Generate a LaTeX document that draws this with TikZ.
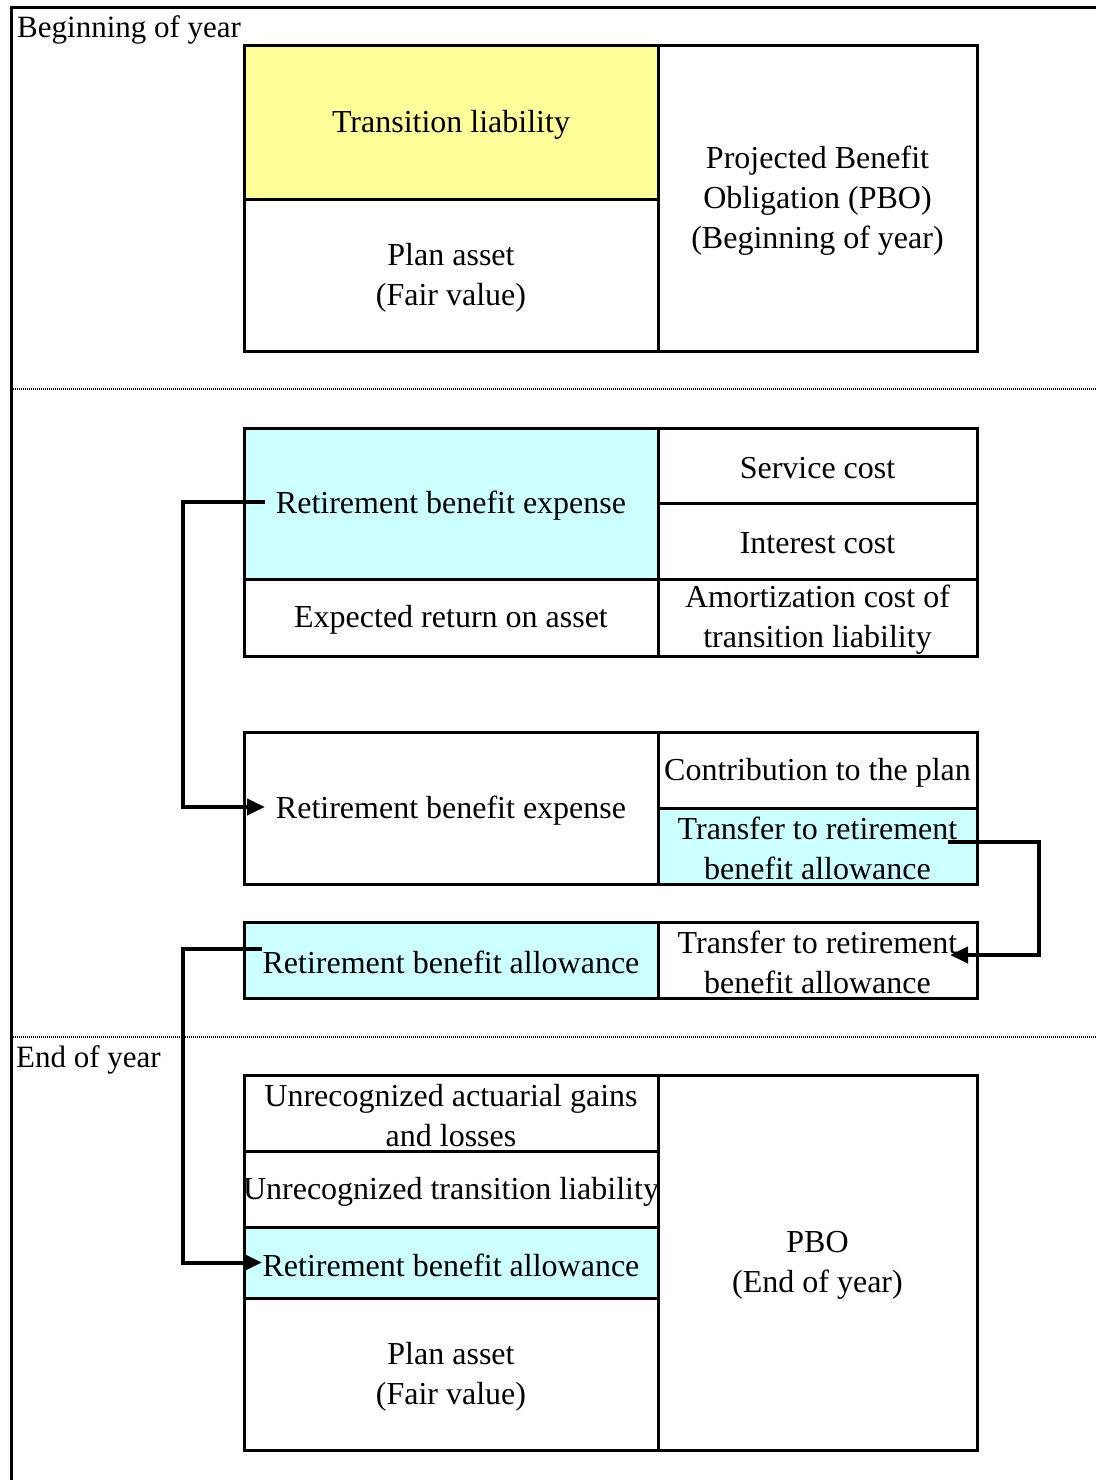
\documentclass[tikz,border=0pt]{standalone}
\usepackage{fontspec}
\setmainfont{Liberation Serif}
\usetikzlibrary{arrows.meta}
\definecolor{lyellow}{HTML}{FFFF99}
\definecolor{lcyan}{HTML}{CCFFFF}
\newcommand{\mkcell}[4]{%
  \node[cell, #1] (#2) at #3 {};
  \node[txt] (#2-t) at ([yshift=-2.5pt]#2.center) {#4};}
\begin{document}
\begin{tikzpicture}[x=1pt,y=-1pt,
  cell/.style={draw, line width=3pt, inner sep=0pt, outer sep=0pt},
  txt/.style={inner sep=0pt, align=center, font=\fontsize{32}{40}\selectfont},
  lw/.style={minimum width=414pt},
  rw/.style={minimum width=319pt},
  conn/.style={line width=4pt, -{Triangle[length=18pt,width=16pt]}},
  sep/.style={line width=1.5pt, dash pattern=on 1pt off 1pt},
  lbl/.style={anchor=base west, inner sep=0pt, font=\fontsize{31}{40}\selectfont}]
\useasboundingbox (0,0) rectangle (1096,1480);
\fill[white] (0,0) rectangle (1096,1480);
% outer frame
\draw[line width=3pt] (1096,8) -- (11,8) -- (11,1480);
% separators
\draw[sep] (13,389) -- (1096,389);
\draw[sep] (13,1037) -- (1096,1037);
% labels
\node[lbl] (boy) at (17,38) {Beginning of year};
\node[lbl] (eoy) at (16,1067) {End of year};
% box 1
\mkcell{lw, fill=lyellow, minimum height=153pt}{tl}{(451,122.5)}{Transition liability}
\mkcell{lw, minimum height=152pt}{pa1}{(451,275)}{Plan asset\\(Fair value)}
\mkcell{rw, minimum height=305pt}{pbo1}{(817.5,198.5)}{Projected Benefit\\Obligation (PBO)\\(Beginning of year)}
% box 2
\mkcell{lw, fill=lcyan, minimum height=151pt}{rbe1}{(451,503.5)}{Retirement benefit expense}
\mkcell{lw, minimum height=77pt}{era}{(451,617.5)}{Expected return on asset}
\mkcell{rw, minimum height=75pt}{sc}{(817.5,465.5)}{Service cost}
\mkcell{rw, minimum height=76pt}{ic}{(817.5,541)}{Interest cost}
\mkcell{rw, minimum height=77pt}{am}{(817.5,617.5)}{Amortization cost of\\transition liability}
% box 3
\mkcell{lw, minimum height=152pt}{rbe2}{(451,808)}{Retirement benefit expense}
\mkcell{rw, minimum height=76pt}{cp}{(817.5,770)}{Contribution to the plan}
\mkcell{rw, fill=lcyan, minimum height=76pt}{tr1}{(817.5,846)}{Transfer to retirement\\benefit allowance}
% box 4
\mkcell{lw, fill=lcyan, minimum height=76pt}{rba1}{(451,960)}{Retirement benefit allowance}
\mkcell{rw, minimum height=76pt}{tr2}{(817.5,960)}{Transfer to retirement\\benefit allowance}
% box 5
\mkcell{lw, minimum height=76pt}{ua}{(451,1113)}{Unrecognized actuarial gains\\and losses}
\mkcell{lw, minimum height=76pt}{ut}{(451,1189)}{Unrecognized transition liability}
\mkcell{lw, fill=lcyan, minimum height=71pt}{rba2}{(451,1262.5)}{Retirement benefit allowance}
\mkcell{lw, minimum height=152pt}{pa2}{(451,1374)}{Plan asset\\(Fair value)}
\mkcell{rw, minimum height=375pt}{pbo2}{(817.5,1262.5)}{PBO\\(End of year)}
% connectors
\draw[conn] ([xshift=21pt,yshift=1.5pt]rbe1.west) -- ++(-82,0) |- ([xshift=21pt,yshift=1pt]rbe2.west);
\draw[conn] ([xshift=-29pt,yshift=4pt]tr1.east) -- ++(91,0) |- ([xshift=-27pt,yshift=5pt]tr2.east);
\draw[conn] ([xshift=18pt,yshift=11pt]rba1.west) -- ++(-79,0) |- ([xshift=18pt]rba2.west);
\end{tikzpicture}
\end{document}
